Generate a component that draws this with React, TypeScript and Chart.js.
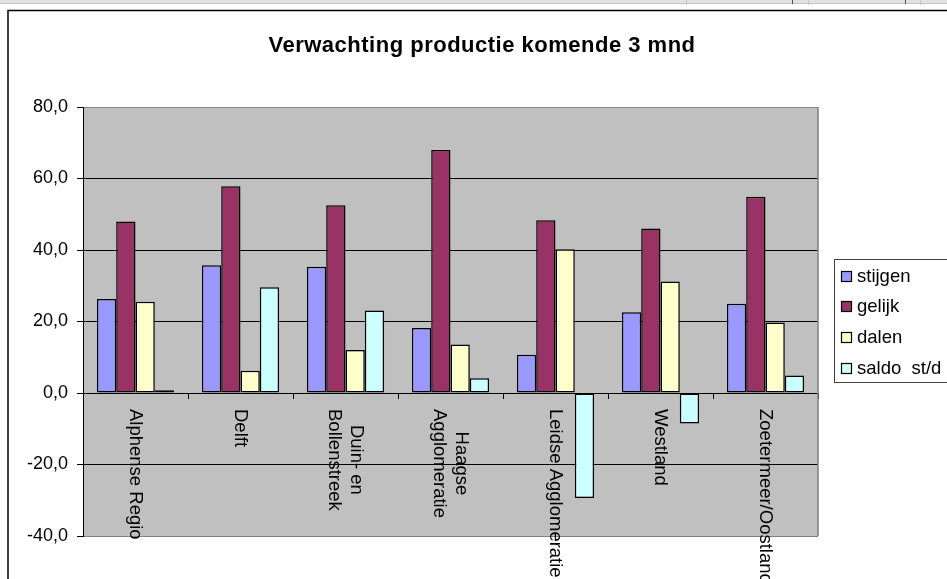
import React, { useEffect, useRef } from "react";
import { Chart, registerables } from "chart.js";

Chart.register(...registerables);

// ---- data ----
const categoryLines: string[][] = [
  ["Alphense Regio"],
  ["Delft"],
  ["Duin- en", "Bollenstreek"],
  ["Haagse", "Agglomeratie"],
  ["Leidse Agglomeratie"],
  ["Westland"],
  ["Zoetermeer/Oostland"],
];
const categories = categoryLines.map((l) => l.join(" "));

const stijgen = [26.3, 35.7, 35.3, 18.2, 10.7, 22.6, 25.0];
const gelijk = [48.0, 57.8, 52.5, 68.0, 48.3, 46.0, 54.9];
const dalen = [25.5, 6.2, 12.0, 13.6, 40.2, 31.2, 19.7];
const saldo = [0.8, 29.6, 23.1, 4.1, -29.4, -8.5, 4.9];

const seriesNames = ["stijgen", "gelijk", "dalen", "saldo  st/d"];
const seriesColors = ["#9999FF", "#993366", "#FFFFCC", "#CCFFFF"];

const yMin = -40;
const yMax = 80;
const yStep = 20;

const titleText = "Verwachting productie komende 3 mnd";

const FONT = "'Liberation Sans', Arial, sans-serif";

const framePlugin = {
  id: "frame",
  beforeDraw(chart: any) {
    const { ctx, chartArea: a, width, height } = chart;
    ctx.save();
    ctx.fillStyle = "#ffffff";
    ctx.fillRect(0, 0, width, height);
    // spreadsheet strip at top
    ctx.fillStyle = "#e2e2e2";
    ctx.fillRect(0, 0, width, 3);
    ctx.strokeStyle = "#c4c4c4";
    ctx.lineWidth = 1;
    ctx.beginPath();
    ctx.moveTo(0, 3.5);
    ctx.lineTo(width, 3.5);
    [686.5, 808.5, 920.5].forEach((x) => {
      ctx.moveTo(x, 0);
      ctx.lineTo(x, 5);
    });
    ctx.stroke();
    ctx.strokeStyle = "#505050";
    ctx.beginPath();
    [792.5, 905.5].forEach((x) => {
      ctx.moveTo(x, 0);
      ctx.lineTo(x, 4);
    });
    ctx.stroke();
    // chart object border
    ctx.strokeStyle = "#000000";
    ctx.lineWidth = 1.5;
    ctx.strokeRect(8, 10.5, width + 20, height + 20);
    // plot area background
    ctx.fillStyle = "#C0C0C0";
    ctx.fillRect(a.left, a.top, a.right - a.left, a.bottom - a.top);
    // title
    ctx.fillStyle = "#000";
    ctx.font = `bold 22px ${FONT}`;
    try {
      (ctx as any).letterSpacing = "0.5px";
    } catch (e) {}
    ctx.textAlign = "center";
    ctx.textBaseline = "middle";
    ctx.fillText(titleText, 482, 46);
    try {
      (ctx as any).letterSpacing = "0px";
    } catch (e) {}
    ctx.restore();
  },
  afterDraw(chart: any) {
    const { ctx, chartArea: a, width } = chart;
    const xs = chart.scales.x;
    const ys = chart.scales.y;
    ctx.save();
    // right border of plot area
    ctx.strokeStyle = "#808080";
    ctx.lineWidth = 1.5;
    ctx.beginPath();
    ctx.moveTo(a.right, a.top);
    ctx.lineTo(a.right, a.bottom);
    ctx.stroke();

    // category labels, rotated clockwise, below the zero line
    const y0 = ys.getPixelForValue(0) + 16;
    ctx.font = `18.5px ${FONT}`;
    ctx.fillStyle = "#000";
    ctx.textAlign = "center";
    ctx.textBaseline = "middle";
    categoryLines.forEach((lines, i) => {
      const x = xs.getPixelForValue(i);
      const w = Math.max(...lines.map((t) => ctx.measureText(t).width));
      ctx.save();
      ctx.translate(x, y0);
      ctx.rotate(Math.PI / 2);
      lines.forEach((t, j) => {
        const ly = (j - (lines.length - 1) / 2) * 22;
        ctx.fillText(t, w / 2, ly);
      });
      ctx.restore();
    });

    // legend
    const lx = 834.5;
    const ly = 259.5;
    ctx.fillStyle = "#ffffff";
    ctx.fillRect(lx, ly, width, 123);
    ctx.strokeStyle = "#404040";
    ctx.lineWidth = 1;
    ctx.strokeRect(lx, ly, width, 123);
    ctx.font = `18.5px ${FONT}`;
    ctx.textAlign = "left";
    ctx.textBaseline = "middle";
    chart.data.datasets.forEach((ds: any, i: number) => {
      const cy = 276.5 + i * 30.7;
      ctx.fillStyle = ds.backgroundColor;
      ctx.fillRect(841.5, Math.round(cy) - 5.5, 10, 10);
      ctx.strokeStyle = "#000";
      ctx.lineWidth = 1.2;
      ctx.strokeRect(841.5, Math.round(cy) - 5.5, 10, 10);
      ctx.fillStyle = "#000";
      ctx.fillText(ds.label, 857, cy);
    });
    ctx.restore();
  },
};

export default function App() {
  const ref = useRef<HTMLCanvasElement | null>(null);
  useEffect(() => {
    if (!ref.current) return;
    const datasets = [stijgen, gelijk, dalen, saldo].map((d, i) => ({
      label: seriesNames[i],
      data: d,
      backgroundColor: seriesColors[i],
      borderColor: "#000000",
      borderWidth: 1.5,
      borderSkipped: false as any,
      categoryPercentage: 0.735,
      barPercentage: 1.0,
    }));
    const chart = new Chart(ref.current, {
      type: "bar",
      data: { labels: categories, datasets },
      options: {
        responsive: false,
        animation: false,
        layout: { padding: { left: 0, top: 107, right: 129, bottom: 43 } },
        plugins: {
          legend: { display: false },
          title: { display: false },
          tooltip: { enabled: false },
        },
        scales: {
          x: {
            type: "category",
            position: { y: 0 } as any,
            ticks: { display: false },
            grid: {
              drawOnChartArea: false,
              offset: true,
              tickLength: 5,
              color: "#000",
            },
            border: { color: "#000", width: 1 },
            afterFit: (s: any) => {
              s.height = 0;
            },
          },
          y: {
            min: yMin,
            max: yMax,
            ticks: {
              stepSize: yStep,
              color: "#000",
              padding: 9,
              font: { family: FONT, size: 18 },
              callback: (v: any) => Number(v).toFixed(1).replace(".", ","),
            },
            grid: {
              color: (c: any) =>
                c.tick && (c.tick.value === yMax || c.tick.value === yMin) ? "#808080" : "#000",
              tickColor: "#000",
              tickLength: 6,
              lineWidth: 1,
            },
            border: { color: "#000", width: 1 },
            afterFit: (s: any) => {
              s.width = 83;
            },
          },
        },
      },
      plugins: [framePlugin],
    });
    return () => chart.destroy();
  }, []);
  return (
    <div style={{ position: "absolute", left: 0, top: 0, width: 947, height: 579, overflow: "hidden" }}>
      <canvas ref={ref} width={947} height={579} style={{ display: "block" }} />
    </div>
  );
}
